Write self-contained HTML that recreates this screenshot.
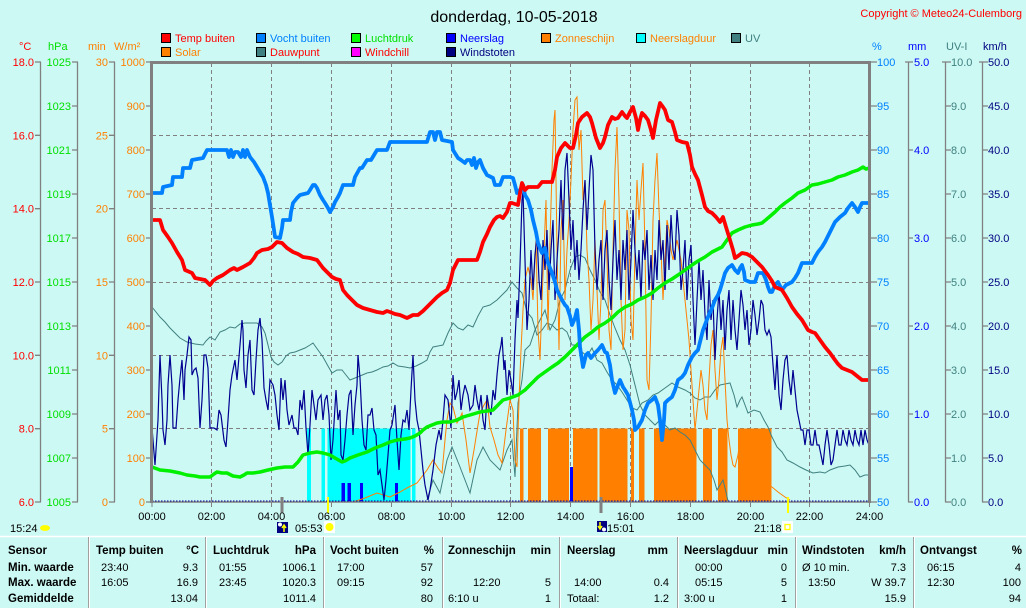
<!DOCTYPE html>
<html><head><meta charset="utf-8"><style>
html,body{margin:0;padding:0;background:#ccf9f4;}
svg{display:block;font-family:"Liberation Sans",Arial,sans-serif;}
</style></head><body>
<svg width="1026" height="608" viewBox="0 0 1026 608" xmlns="http://www.w3.org/2000/svg">
<rect x="0" y="0" width="1026" height="608" fill="#ccf9f4"/>
<!-- title -->
<text x="514" y="22" font-size="16" text-anchor="middle" fill="#000">donderdag, 10-05-2018</text>
<text x="1022" y="17" font-size="11" text-anchor="end" fill="#ff0000">Copyright © Meteo24-Culemborg</text>

<!-- legend -->
<g font-size="11">
<rect x="161.5" y="33.5" width="9" height="9" fill="#ff0000" stroke="#000"/><text x="175" y="42" fill="#ff0000">Temp buiten</text>
<rect x="256.5" y="33.5" width="9" height="9" fill="#0080ff" stroke="#000"/><text x="270" y="42" fill="#0080ff">Vocht buiten</text>
<rect x="351.5" y="33.5" width="9" height="9" fill="#00ff00" stroke="#000"/><text x="365" y="42" fill="#00e000">Luchtdruk</text>
<rect x="446.5" y="33.5" width="9" height="9" fill="#0000ff" stroke="#000"/><text x="460" y="42" fill="#0000ff">Neerslag</text>
<rect x="541.5" y="33.5" width="9" height="9" fill="#ff8000" stroke="#000"/><text x="555" y="42" fill="#ff8000">Zonneschijn</text>
<rect x="636.5" y="33.5" width="9" height="9" fill="#00ffff" stroke="#000"/><text x="650" y="42" fill="#ff8000">Neerslagduur</text>
<rect x="731.5" y="33.5" width="9" height="9" fill="#408080" stroke="#000"/><text x="745" y="42" fill="#408080">UV</text>
<rect x="161.5" y="47.5" width="9" height="9" fill="#ff8000" stroke="#000"/><text x="175" y="56" fill="#ff8000">Solar</text>
<rect x="256.5" y="47.5" width="9" height="9" fill="#408080" stroke="#000"/><text x="270" y="56" fill="#ff0000">Dauwpunt</text>
<rect x="351.5" y="47.5" width="9" height="9" fill="#ff00ff" stroke="#000"/><text x="365" y="56" fill="#ff0000">Windchill</text>
<rect x="446.5" y="47.5" width="9" height="9" fill="#000080" stroke="#000"/><text x="460" y="56" fill="#000080">Windstoten</text>
</g>

<!-- axis headers -->
<g font-size="11">
<text x="19" y="50" fill="#ff0000">°C</text>
<text x="48" y="50" fill="#00e000">hPa</text>
<text x="88" y="50" fill="#ff8000">min</text>
<text x="114" y="50" fill="#ff8000">W/m²</text>
<text x="872" y="50" fill="#0080ff">%</text>
<text x="908" y="50" fill="#0000ff">mm</text>
<text x="946" y="50" fill="#408080">UV-I</text>
<text x="983" y="50" fill="#000080">km/h</text>
</g>

<!-- axis lines -->
<g stroke="#808080" stroke-width="1.3">
<line x1="40.5" y1="62" x2="40.5" y2="502"/>
<line x1="77.5" y1="62" x2="77.5" y2="502"/>
<line x1="114.5" y1="62" x2="114.5" y2="502"/>
<line x1="908.5" y1="62" x2="908.5" y2="502"/>
<line x1="945.5" y1="62" x2="945.5" y2="502"/>
<line x1="982.5" y1="62" x2="982.5" y2="502"/>
</g>

<!-- left tick labels -->
<g font-size="11" text-anchor="end">
<g fill="#ff0000">
<text x="34" y="66">18.0</text><text x="34" y="139.3">16.0</text><text x="34" y="212.7">14.0</text><text x="34" y="286">12.0</text><text x="34" y="359.3">10.0</text><text x="34" y="432.7">8.0</text><text x="34" y="506">6.0</text>
</g>
<g fill="#00e000">
<text x="71" y="66">1025</text><text x="71" y="110">1023</text><text x="71" y="154">1021</text><text x="71" y="198">1019</text><text x="71" y="242">1017</text><text x="71" y="286">1015</text><text x="71" y="330">1013</text><text x="71" y="374">1011</text><text x="71" y="418">1009</text><text x="71" y="462">1007</text><text x="71" y="506">1005</text>
</g>
<g fill="#ff8000">
<text x="108" y="66">30</text><text x="108" y="139.3">25</text><text x="108" y="212.7">20</text><text x="108" y="286">15</text><text x="108" y="359.3">10</text><text x="108" y="432.7">5</text><text x="108" y="506">0</text>
<text x="145" y="66">1000</text><text x="145" y="110">900</text><text x="145" y="154">800</text><text x="145" y="198">700</text><text x="145" y="242">600</text><text x="145" y="286">500</text><text x="145" y="330">400</text><text x="145" y="374">300</text><text x="145" y="418">200</text><text x="145" y="462">100</text><text x="145" y="506">0</text>
</g>
</g>
<g stroke="#808080" stroke-width="1.3">
<path d="M35 62H41M35 135.3H41M35 208.7H41M35 282H41M35 355.3H41M35 428.7H41M35 502H41"/>
<path d="M72 62H78M72 106H78M72 150H78M72 194H78M72 238H78M72 282H78M72 326H78M72 370H78M72 414H78M72 458H78M72 502H78"/>
<path d="M109 62H115M109 135.3H115M109 208.7H115M109 282H115M109 355.3H115M109 428.7H115M109 502H115"/>
<path d="M146 62H151M146 106H151M146 150H151M146 194H151M146 238H151M146 282H151M146 326H151M146 370H151M146 414H151M146 458H151M146 502H151"/>
<path d="M870 62H877M870 106H877M870 150H877M870 194H877M870 238H877M870 282H877M870 326H877M870 370H877M870 414H877M870 458H877M870 502H877"/>
<path d="M905 62H913M908 150H913M908 238H913M908 326H913M908 414H913M908 502H913"/>
<path d="M942 62H951M945 106H951M945 150H951M945 194H951M945 238H951M945 282H951M945 326H951M945 370H951M945 414H951M945 458H951M945 502H951"/>
<path d="M979 62H988M982 106H988M982 150H988M982 194H988M982 238H988M982 282H988M982 326H988M982 370H988M982 414H988M982 458H988M982 502H988"/>
</g>

<!-- right tick labels -->
<g font-size="11">
<g fill="#0080ff">
<text x="877" y="66">100</text><text x="877" y="110">95</text><text x="877" y="154">90</text><text x="877" y="198">85</text><text x="877" y="242">80</text><text x="877" y="286">75</text><text x="877" y="330">70</text><text x="877" y="374">65</text><text x="877" y="418">60</text><text x="877" y="462">55</text><text x="877" y="506">50</text>
</g>
<g fill="#0000ff">
<text x="914" y="66">5.0</text><text x="914" y="154">4.0</text><text x="914" y="242">3.0</text><text x="914" y="330">2.0</text><text x="914" y="418">1.0</text><text x="914" y="506">0.0</text>
</g>
<g fill="#408080">
<text x="951" y="66">10.0</text><text x="951" y="110">9.0</text><text x="951" y="154">8.0</text><text x="951" y="198">7.0</text><text x="951" y="242">6.0</text><text x="951" y="286">5.0</text><text x="951" y="330">4.0</text><text x="951" y="374">3.0</text><text x="951" y="418">2.0</text><text x="951" y="462">1.0</text><text x="951" y="506">0.0</text>
</g>
<g fill="#000080">
<text x="988" y="66">50.0</text><text x="988" y="110">45.0</text><text x="988" y="154">40.0</text><text x="988" y="198">35.0</text><text x="988" y="242">30.0</text><text x="988" y="286">25.0</text><text x="988" y="330">20.0</text><text x="988" y="374">15.0</text><text x="988" y="418">10.0</text><text x="988" y="462">5.0</text><text x="988" y="506">0.0</text>
</g>
</g>

<!-- grid -->
<g stroke="#808080" stroke-width="1" stroke-dasharray="4,3">
<path d="M152 135.5H870M152 208.5H870M152 282.5H870M152 355.5H870M152 428.5H870"/>
<path d="M211.5 63V502M271.5 63V502M331.5 63V502M391.5 63V502M451.5 63V502M510.5 63V502M570.5 63V502M630.5 63V502M690.5 63V502M750.5 63V502M809.5 63V502"/>
</g>

<!-- rain duration (cyan) -->
<g fill="#00ffff">
<rect x="307" y="428.5" width="4" height="73.5"/>
<rect x="321.5" y="428.5" width="3.5" height="73.5"/>
<rect x="327.5" y="428.5" width="83" height="73.5"/>
<rect x="412" y="428.5" width="3.5" height="73.5"/>
</g>
<!-- sunshine (orange) -->
<g fill="#ff8000">
<rect x="520" y="428.5" width="3.5" height="73.5"/>
<rect x="528" y="428.5" width="13" height="73.5"/>
<rect x="548" y="428.5" width="21" height="73.5"/>
<rect x="573" y="428.5" width="24.5" height="73.5"/>
<rect x="599.5" y="428.5" width="28" height="73.5"/>
<rect x="631" y="428.5" width="3" height="73.5"/>
<rect x="639" y="428.5" width="5.5" height="73.5"/>
<rect x="654" y="428.5" width="42.5" height="73.5"/>
<rect x="703" y="428.5" width="9" height="73.5"/>
<rect x="718" y="428.5" width="9.5" height="73.5"/>
<rect x="738" y="428.5" width="33.5" height="73.5"/>
</g>
<!-- rain bars -->
<g fill="#0000ff">
<rect x="341.5" y="483" width="3.5" height="19"/>
<rect x="347.5" y="483" width="3.5" height="19"/>
<rect x="360" y="483" width="3" height="19"/>
<rect x="395" y="483" width="3" height="19"/>
<rect x="570" y="467" width="3" height="35"/>
</g>

<!-- UV -->
<polyline fill="none" stroke="#408080" stroke-width="1" points="427,500 433,480 440,493 447,460 452,447 460,467 470,493 477,460 483,447 490,460 500,470 507,450 512,440 515,477 518,403 522,380 525,350 530,345 535,330 540,320 545,310 550,330 555,320 560,300 565,290 570,270 575,257 580,255 585,258 590,270 595,280 600,292 605,300 610,315 615,328 620,340 625,350 630,365 635,385 640,405 645,415 650,420 655,425 660,420 665,425 670,430 675,428 680,432 685,435 690,440 695,450 700,460 705,465 710,470 714,480 717,490 720,485 723,480 726,492 728,501"/>
<!-- dew point -->
<polyline fill="none" stroke="#408080" stroke-width="1" points="152,307 156,312 160,317 165,322 170,328 175,333 180,338 187,342 195,344 203,345 206,341 210,337 215,340 220,332 225,330 230,327 235,328 240,324 245,323 250,323 257,323 262,327 265,333 268,345 271,357 274,362 278,365 282,362 286,356 290,353 295,352 300,350 305,348 310,345 313,343 318,350 323,357 328,366 332,373 337,370 342,370 346,375 350,380 355,378 360,376 367,373 372,372 377,370 383,367 388,366 393,363 398,366 405,367 410,368 416,366 422,363 427,360 430,352 433,347 438,346 443,345 448,333 453,323 458,328 463,330 468,325 473,327 478,316 483,307 490,305 497,300 502,295 507,290 512,282 517,288 522,293 527,312 532,318 537,335 542,330 547,323 552,325 557,330 562,328 567,332 572,345 577,345 582,352 587,356 592,348 597,360 602,363 607,372 612,380 617,385 622,392 627,400 632,408 637,410 642,403 648,400 653,395 658,393 665,388 672,383 678,387 685,390 690,393 695,398 700,400 705,397 710,397 715,390 720,385 725,384 730,383 734,395 737,407 740,400 742,397 745,405 748,413 754,410 760,412 764,420 768,427 772,437 777,447 782,452 787,460 793,463 800,467 806,470 813,473 820,472 825,473 830,470 838,467 845,466 850,465 855,470 860,477 865,475 870,475"/>
<!-- solar -->
<polyline fill="none" stroke="#ff8000" stroke-width="1" points="353,502 365,498 377,493 390,497 400,492 407,488 417,483 427,470 433,460 438,468 442,473 445,440 447,420 450,403 453,407 457,423 460,418 462,413 466,440 470,473 474,450 478,425 480,413 484,405 487,400 490,427 494,440 498,455 502,463 506,430 510,400 513,410 515,460 517,467 519,400 521,350 523,310 525,280 528,267 531,280 533,300 536,240 538,330 540,360 542,300 544,250 546,200 548,330 550,240 552,170 554,120 555,110 557,250 559,350 561,230 563,200 565,300 567,250 569,220 571,180 573,130 575,100 577,97 579,150 581,130 583,200 585,180 587,250 589,280 591,330 593,300 595,240 597,290 599,340 601,300 603,210 605,200 607,260 609,330 611,350 613,250 615,170 617,127 619,200 621,300 623,350 625,330 627,210 629,230 631,320 633,340 635,250 637,180 639,220 641,190 643,163 645,250 647,380 649,390 651,320 653,220 655,180 657,153 659,210 661,250 663,300 665,260 667,220 669,230 671,250 673,260 675,250 677,240 679,250 681,260 683,280 685,300 687,320 689,340 691,370 693,400 695,430 697,410 699,390 701,370 703,385 705,410 707,420 709,380 711,345 713,330 715,370 717,400 719,380 721,350 723,337 725,380 727,420 729,440 731,455 733,465 735,467 738,455 741,430 744,430 747,440 750,455 755,470 760,478 765,483 772,487 778,492 785,497 790,500"/>
<!-- wind gusts -->
<polyline fill="none" stroke="#000090" stroke-width="1.2" points="152,428 155,465 158,420 160,355 162,400 163,430 165,445 167,420 168,385 170,355 172,385 173,428 176,428 178,400 180,378 182,360 184,400 185,370 187,355 189,337 191,340 192,375 194,370 196,368 198,378 200,428 202,400 204,355 206,355 208,368 210,428 214,428 217,430 219,410 221,415 224,440 226,447 228,420 230,390 232,375 235,360 237,380 240,345 242,320 243,330 244,370 246,388 248,355 250,340 252,390 254,395 256,360 258,330 260,318 262,340 264,388 266,400 268,410 270,380 273,385 275,395 277,415 279,430 281,378 283,400 285,380 287,410 289,425 292,415 294,428 296,428 298,435 300,400 302,410 304,390 306,428 308,455 310,425 312,390 314,405 316,420 318,400 321,395 323,420 325,400 327,395 329,415 331,460 333,440 336,390 338,420 340,410 341,455 343,460 345,440 347,415 349,395 351,390 353,435 355,405 357,385 358,355 360,378 362,420 364,445 366,450 368,415 370,415 372,408 374,430 376,435 378,475 380,470 382,485 384,500 386,480 388,455 390,430 392,425 395,405 397,440 399,470 401,435 403,420 405,422 407,410 409,430 411,390 413,355 415,400 417,420 419,430 421,450 423,470 425,485 428,500 430,490 433,470 436,445 439,430 441,440 443,420 445,395 448,400 451,428 453,375 455,400 457,392 459,380 461,410 463,395 465,385 468,395 470,410 473,405 475,385 477,400 479,410 481,395 483,420 485,430 487,395 489,408 491,415 493,390 495,400 497,375 499,355 501,345 502,337 504,370 505,360 507,395 509,370 511,380 513,395 515,340 517,300 518,318 520,265 522,200 523,192 525,260 527,330 529,300 531,250 533,290 535,255 537,235 539,280 541,300 543,240 545,270 547,230 549,290 551,250 553,220 555,300 557,260 559,230 561,180 563,240 565,170 567,153 569,200 571,250 573,220 575,270 577,240 579,280 581,250 583,210 585,180 587,230 589,190 591,155 593,170 595,250 597,290 599,260 601,240 603,300 605,250 607,230 609,280 611,310 613,260 615,220 617,280 619,250 621,300 623,240 625,270 627,230 629,300 631,260 633,210 635,250 637,280 639,250 641,300 643,240 645,260 647,230 649,290 651,255 653,300 655,250 657,280 659,220 661,260 663,240 665,290 667,225 669,270 671,215 673,250 675,260 677,210 679,235 681,290 683,270 685,240 687,300 689,260 691,245 693,300 695,345 697,300 699,260 701,300 703,270 705,315 707,340 709,280 711,320 713,300 715,360 717,320 719,290 721,330 723,300 725,350 727,310 729,290 731,340 733,300 735,330 737,350 739,320 741,290 743,305 745,330 747,310 749,345 751,330 753,300 755,315 757,335 759,320 761,300 763,305 765,330 767,335 769,330 771,337 773,365 775,390 777,355 779,395 781,410 783,380 785,360 787,355 789,380 791,395 793,370 795,390 797,410 799,420 801,430 803,430 805,445 807,430 809,430 811,445 813,445 815,430 817,445 819,445 821,455 823,465 825,445 827,430 829,445 831,465 833,460 835,445 837,430 839,445 841,445 843,430 845,440 847,445 849,430 851,440 853,445 855,430 857,440 859,445 861,430 863,445 865,430 867,440 869,445"/>

<!-- pressure -->
<polyline fill="none" stroke="#00f000" stroke-width="3.5" stroke-linejoin="round" points="152,467 160,470 170,471 180,473 187,475 195,476 200,477 210,477 214,474 217,472 222,473 227,473 233,476 240,477 244,475 247,473 253,473 260,472 268,470 277,468 285,467 293,467 298,462 303,455 310,453 317,452 323,453 330,455 335,458 342,462 345,461 350,458 358,455 367,452 375,448 383,445 390,442 397,440 405,439 410,438 415,436 420,433 423,430 427,427 432,425 437,423 443,422 450,422 457,420 463,417 470,415 480,412 487,411 493,410 498,405 503,400 510,398 518,395 525,390 532,383 538,377 545,372 552,367 558,363 565,357 572,350 578,344 585,337 592,332 598,327 605,323 612,318 618,312 625,307 632,304 638,300 645,297 652,293 658,288 665,283 672,279 678,275 685,270 692,265 698,261 705,257 712,252 718,249 722,247 727,240 732,233 738,230 745,227 752,225 758,224 762,223 768,218 775,212 780,207 785,203 792,198 798,193 805,190 812,185 818,184 825,182 832,180 838,177 845,175 852,172 858,170 863,167 866,169 870,168"/>
<!-- humidity -->
<polyline fill="none" stroke="#0080ff" stroke-width="3.8" stroke-linejoin="round" points="152,193 162,193 163,187 172,185 173,177 182,177 183,168 190,168 192,160 203,158 207,150 227,150 229,157 231,150 233,157 235,152 238,152 241,157 243,150 245,157 247,150 250,157 254,162 257,167 260,172 263,177 266,185 268,193 270,205 272,217 274,230 275,237 280,238 282,228 283,220 290,220 291,212 293,203 297,198 300,195 308,193 310,190 313,185 315,185 317,188 320,195 323,200 325,203 328,208 330,212 333,207 335,202 338,197 340,193 343,185 353,185 355,177 360,168 362,168 367,160 371,160 374,155 377,150 387,150 390,142 427,142 430,132 433,132 435,140 437,132 440,132 442,140 452,142 453,150 458,158 461,160 465,163 467,160 470,160 472,165 474,158 476,168 478,162 480,160 483,168 487,175 493,178 495,185 500,185 503,177 510,177 513,178 515,185 517,193 520,190 523,185 525,195 528,200 531,210 533,220 536,232 538,243 542,253 545,248 548,263 552,273 555,282 557,290 560,296 562,300 565,305 567,307 570,316 572,325 575,318 577,310 579,330 580,347 583,367 586,355 588,353 591,358 595,353 598,350 602,345 605,352 607,353 610,365 612,380 615,393 618,385 620,380 623,387 625,390 628,395 632,410 634,420 635,430 638,427 642,420 645,410 648,403 652,400 655,397 658,405 660,420 662,440 664,420 665,403 668,400 672,397 675,390 678,380 682,377 685,373 688,365 692,357 695,353 698,350 700,342 703,330 706,322 708,317 712,308 715,300 718,295 720,290 723,280 725,273 728,268 732,265 735,270 738,273 740,268 742,265 744,272 745,280 750,282 755,282 757,276 758,273 763,273 766,280 768,287 770,292 772,292 775,285 778,282 780,286 782,290 786,285 792,282 795,278 798,273 800,268 802,263 812,263 815,257 818,252 822,247 825,242 830,232 835,222 840,217 845,213 848,208 852,203 855,207 858,212 860,207 862,203 870,203"/>
<!-- temperature -->
<polyline fill="none" stroke="#ff0000" stroke-width="3.8" stroke-linejoin="round" points="152,220 160,220 163,230 168,237 172,243 177,252 182,260 185,270 192,273 195,278 200,279 205,280 208,283 210,285 213,281 217,278 223,275 230,270 234,268 237,270 243,267 250,263 254,258 257,253 262,250 268,249 272,247 277,242 282,243 287,248 293,252 298,254 303,257 310,258 317,260 320,264 323,268 328,273 332,277 336,279 340,280 343,290 347,295 350,298 357,305 363,308 370,310 377,312 383,313 387,311 390,312 395,314 400,315 407,318 413,315 418,315 423,311 427,307 432,302 437,297 442,293 447,290 450,283 453,270 458,260 465,260 472,260 477,260 480,252 483,242 487,234 490,227 494,220 497,217 500,216 503,218 507,212 510,203 512,203 515,204 518,205 520,193 522,183 525,190 528,187 533,187 538,187 542,182 547,182 552,182 555,170 557,157 561,148 565,143 570,148 573,148 576,135 578,123 582,117 587,113 590,117 592,123 596,138 600,148 603,143 605,137 608,125 612,117 615,119 618,118 622,112 625,116 627,118 630,112 633,107 636,118 638,130 640,120 642,113 645,116 648,120 651,130 653,138 656,120 660,103 663,107 665,110 668,120 672,122 675,132 677,140 682,142 687,143 690,155 692,167 695,174 698,180 702,195 705,207 708,211 712,213 716,217 720,222 723,217 726,227 730,240 733,250 735,258 738,256 742,253 747,254 752,257 757,262 762,267 765,271 768,275 772,281 775,287 780,289 782,290 787,298 792,307 797,314 802,320 805,325 808,330 812,332 815,333 820,340 825,347 830,353 835,360 838,364 842,368 847,370 852,372 857,376 862,380 866,380 870,380"/>

<!-- plot border -->
<line x1="152" y1="502" x2="870" y2="502" stroke="#808080" stroke-width="1.5"/>
<line x1="152" y1="501" x2="870" y2="501" stroke="#0000a0" stroke-width="1" stroke-dasharray="1.5,1.5"/>
<path d="M151.5 503V62.5H869.5V503" fill="none" stroke="#808080" stroke-width="3"/>

<!-- x ticks & markers -->
<g stroke="#808080" stroke-width="1">
<path d="M152 502V507M211.5 502V507M271.5 502V507M331.5 502V507M391.5 502V507M451.5 502V507M510.5 502V507M570.5 502V507M630.5 502V507M690.5 502V507M750.5 502V507M809.5 502V507M869.5 502V507"/>
</g>
<rect x="280.5" y="497" width="3" height="16" fill="#808080"/>
<rect x="599.5" y="497" width="3" height="16" fill="#808080"/>
<rect x="327" y="497" width="2" height="16" fill="#ffff00"/>
<rect x="787" y="497" width="2" height="16" fill="#ffff00"/>

<g font-size="11" text-anchor="middle" fill="#000">
<text x="152" y="520">00:00</text><text x="211.5" y="520">02:00</text><text x="271.5" y="520">04:00</text><text x="331.5" y="520">06:00</text><text x="391.5" y="520">08:00</text><text x="451.5" y="520">10:00</text><text x="510.5" y="520">12:00</text><text x="570.5" y="520">14:00</text><text x="630.5" y="520">16:00</text><text x="690.5" y="520">18:00</text><text x="750.5" y="520">20:00</text><text x="809.5" y="520">22:00</text><text x="869.5" y="520">24:00</text>
</g>

<!-- sun / moon row -->
<g font-size="11" fill="#000">
<text x="10" y="532">15:24</text>
<text x="295" y="532">05:53</text>
<text x="607" y="532">15:01</text>
<text x="754" y="532">21:18</text>
</g>
<ellipse cx="45" cy="528" rx="5" ry="3" fill="#ffff00"/>
<rect x="277" y="522" width="11" height="11" fill="#000080"/>
<circle cx="280" cy="524.5" r="2" fill="#ffffff"/>
<path d="M284 532V526M282 528L284 525L286 528" stroke="#ffff00" stroke-width="1.5" fill="none"/>
<rect x="324" y="521" width="11" height="12" fill="#ffffff"/>
<circle cx="329.5" cy="527" r="4" fill="#ffff00"/>
<rect x="597" y="521" width="10" height="11" fill="#000080"/>
<circle cx="604" cy="529.5" r="2" fill="#ffffff"/>
<path d="M600 522V528M598 526L600 529L602 526" stroke="#ffff00" stroke-width="1.5" fill="none"/>
<rect x="782" y="521" width="11" height="12" fill="#ffffff"/>
<rect x="785" y="524.5" width="5" height="5" fill="none" stroke="#ffff00" stroke-width="1.3"/>

<!-- table -->
<line x1="0" y1="536.5" x2="1026" y2="536.5" stroke="#ffffff" stroke-width="1.5"/>
<g stroke="#a0a0a0" stroke-width="1">
<path d="M88.5 537V608M205.5 537V608M323.5 537V608M442.5 537V608M559.5 537V608M677.5 537V608M795.5 537V608M913.5 537V608"/>
</g>
<g stroke="#ffffff" stroke-width="1">
<path d="M89.5 537V608M206.5 537V608M324.5 537V608M443.5 537V608M560.5 537V608M678.5 537V608M796.5 537V608M914.5 537V608"/>
</g>
<g font-size="11.5" font-weight="bold" fill="#000">
<text x="8" y="554">Sensor</text>
<text x="8" y="571">Min. waarde</text>
<text x="8" y="586">Max. waarde</text>
<text x="8" y="602">Gemiddelde</text>
<text x="96" y="554">Temp buiten</text><text x="199" y="554" text-anchor="end">°C</text>
<text x="213" y="554">Luchtdruk</text><text x="316" y="554" text-anchor="end">hPa</text>
<text x="330" y="554">Vocht buiten</text><text x="434" y="554" text-anchor="end">%</text>
<text x="448" y="554">Zonneschijn</text><text x="551" y="554" text-anchor="end">min</text>
<text x="567" y="554">Neerslag</text><text x="668" y="554" text-anchor="end">mm</text>
<text x="684" y="554">Neerslagduur</text><text x="788" y="554" text-anchor="end">min</text>
<text x="802" y="554">Windstoten</text><text x="906" y="554" text-anchor="end">km/h</text>
<text x="920" y="554">Ontvangst</text><text x="1022" y="554" text-anchor="end">%</text>
</g>
<g font-size="11" fill="#000">
<text x="101" y="571">23:40</text><text x="198" y="571" text-anchor="end">9.3</text>
<text x="101" y="586">16:05</text><text x="198" y="586" text-anchor="end">16.9</text>
<text x="198" y="602" text-anchor="end">13.04</text>
<text x="219" y="571">01:55</text><text x="316" y="571" text-anchor="end">1006.1</text>
<text x="219" y="586">23:45</text><text x="316" y="586" text-anchor="end">1020.3</text>
<text x="316" y="602" text-anchor="end">1011.4</text>
<text x="337" y="571">17:00</text><text x="433" y="571" text-anchor="end">57</text>
<text x="337" y="586">09:15</text><text x="433" y="586" text-anchor="end">92</text>
<text x="433" y="602" text-anchor="end">80</text>
<text x="473" y="586">12:20</text><text x="551" y="586" text-anchor="end">5</text>
<text x="448" y="602">6:10 u</text><text x="551" y="602" text-anchor="end">1</text>
<text x="574" y="586">14:00</text><text x="669" y="586" text-anchor="end">0.4</text>
<text x="567" y="602">Totaal:</text><text x="669" y="602" text-anchor="end">1.2</text>
<text x="695" y="571">00:00</text><text x="787" y="571" text-anchor="end">0</text>
<text x="695" y="586">05:15</text><text x="787" y="586" text-anchor="end">5</text>
<text x="684" y="602">3:00 u</text><text x="787" y="602" text-anchor="end">1</text>
<text x="802" y="571">Ø 10 min.</text><text x="906" y="571" text-anchor="end">7.3</text>
<text x="808" y="586">13:50</text><text x="906" y="586" text-anchor="end">W 39.7</text>
<text x="906" y="602" text-anchor="end">15.9</text>
<text x="927" y="571">06:15</text><text x="1021" y="571" text-anchor="end">4</text>
<text x="927" y="586">12:30</text><text x="1021" y="586" text-anchor="end">100</text>
<text x="1021" y="602" text-anchor="end">94</text>
</g>
</svg>
</body></html>
